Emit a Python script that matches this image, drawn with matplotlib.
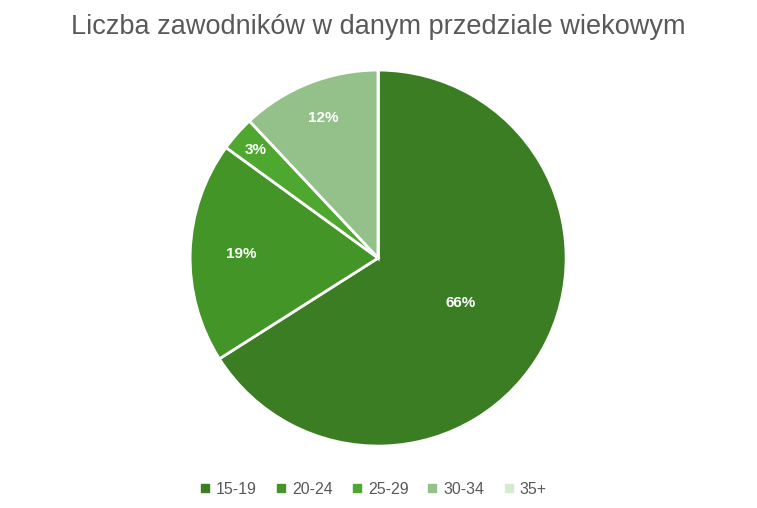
import numpy as np
import matplotlib
matplotlib.use("Agg", force=True)
import matplotlib.pyplot as plt
from matplotlib.lines import Line2D

categories = ["15-19", "20-24", "25-29", "30-34", "35+"]
values = [66, 19, 3, 12, 0]
colors = ["#3B7D23", "#449528", "#4EA72E", "#94C18A", "#D5EBCF"]
label_dist = [0.5, 0.73, 0.87, 0.8, 0.5]

plt.rcParams["font.family"] = ["Liberation Sans", "DejaVu Sans"]

fig = plt.figure(figsize=(7.57, 5.08), dpi=100)
fig.text(0.5, 0.947, "Liczba zawodników w danym przedziale wiekowym",
         ha="center", va="center", fontsize=19.5, color="#595959")

w, h = 376 / 757, 376 / 508
ax = fig.add_axes([0.4995 - w / 2, 0.492 - h / 2, w, h])
wedges, texts, autotexts = ax.pie(
    values, colors=colors, startangle=90, counterclock=False,
    autopct=lambda p: f"{p:.0f}%" if p >= 1 else "", pctdistance=0.52,
    wedgeprops=dict(edgecolor="white", linewidth=2),
    textprops=dict(color="white", fontsize=11, fontweight="bold"),
)
for wd, t, d in zip(wedges, autotexts, label_dist):
    ang = np.deg2rad((wd.theta1 + wd.theta2) / 2)
    t.set_position((d * np.cos(ang), d * np.sin(ang)))
ax.set_xlim(-1, 1)
ax.set_ylim(-1, 1)
ax.set_aspect("equal")

handles = [Line2D([], [], marker="s", linestyle="", markersize=6,
                  markerfacecolor=c, markeredgecolor=c) for c in colors]
fig.legend(handles, categories, loc="center", bbox_to_anchor=(0.49, 0.037),
           ncol=5, frameon=False, fontsize=11.5, handletextpad=0.1,
           handlelength=1.2, columnspacing=0.9, labelcolor="#595959")

fig.savefig("out.png", dpi=100)
